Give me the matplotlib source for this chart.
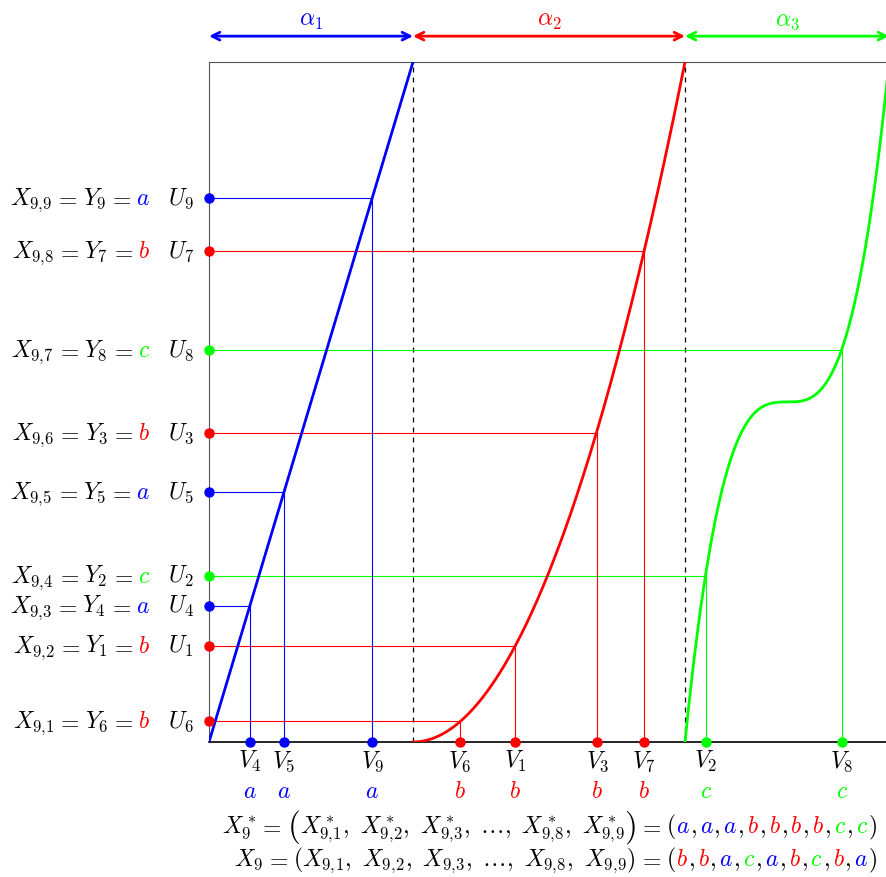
import numpy as np
import matplotlib
matplotlib.use("Agg")
import matplotlib.pyplot as plt

plt.rcParams['mathtext.fontset'] = 'cm'
plt.rcParams['font.family'] = ['DejaVu Serif']

# ---- data ----
alphas = [0.3, 0.4, 0.3]                      # widths of the three segments
U = [0.141, 0.244, 0.454, 0.200, 0.368, 0.031, 0.722, 0.576, 0.800]   # U_1..U_9
V = [0.450, 0.731, 0.571, 0.060, 0.110, 0.369, 0.640, 0.931, 0.240]   # V_1..V_9
Ycat = ['b', 'c', 'b', 'a', 'a', 'b', 'b', 'c', 'a']                   # Y_1..Y_9
cat_colors = {'a': '#0000ff', 'b': '#ff0000', 'c': '#00ff00'}
seg_labels = [r'$\alpha_1$', r'$\alpha_2$', r'$\alpha_3$']

W, H = 887, 878
FS = 17
fig = plt.figure(figsize=(W / 100, H / 100), dpi=100)
ax = fig.add_axes([209 / W, (H - 743) / H, 680 / W, 680 / H])
ax.set_xlim(0, 1)
ax.set_ylim(0, 1)
ax.set_xticks([])
ax.set_yticks([])
ax.spines['right'].set_visible(False)
ax.spines['top'].set_color('#555555')
ax.spines['left'].set_color('#555555')
ax.spines['bottom'].set_color('black')
ax.spines['bottom'].set_linewidth(1.2)

b1 = alphas[0]
b2 = alphas[0] + alphas[1]
b3 = b2 + alphas[2]

# curves (piecewise quantile map)
x1 = np.linspace(0, b1, 50)
ax.plot(x1, x1 / b1, color=cat_colors['a'], lw=2.0, zorder=3)
x2 = np.linspace(b1, b2, 200)
ax.plot(x2, ((x2 - b1) / alphas[1]) ** 2, color=cat_colors['b'], lw=2.0, zorder=3)
x3 = np.linspace(b2, b3, 200)
mid = (b2 + b3) / 2
ax.plot(x3, 0.5 + 0.5 * ((x3 - mid) / (alphas[2] / 2)) ** 3, color=cat_colors['c'], lw=2.0, zorder=3)

# dashed separators
for bx in [b1, b2]:
    ax.plot([bx, bx], [0, 1], color='black', lw=0.9, ls=(0, (4, 4)), zorder=2)

# guide lines and dots
for k in range(9):
    c = cat_colors[Ycat[k]]
    ax.plot([0, V[k]], [U[k], U[k]], color=c, lw=0.8, zorder=2)
    ax.plot([V[k], V[k]], [0, U[k]], color=c, lw=0.8, zorder=2)
    ax.plot([0], [U[k]], 'o', color=c, ms=6.5, clip_on=False, zorder=5)
    ax.plot([V[k]], [0], 'o', color=c, ms=6.5, clip_on=False, zorder=5)

# top arrows
starts = [0, b1, b2]
for i in range(3):
    c = cat_colors['abc'[i]]
    ax.annotate('', xy=(starts[i] + alphas[i], 1.038), xytext=(starts[i], 1.038),
                xycoords='data', textcoords='data', annotation_clip=False,
                arrowprops=dict(arrowstyle='<->', color=c, lw=2, shrinkA=0, shrinkB=0,
                                mutation_scale=14))
    ax.text(starts[i] + alphas[i] / 2, 1.054, seg_labels[i], color=c, ha='center',
            va='baseline', fontsize=FS, clip_on=False)

renderer = fig.canvas.get_renderer()


def rich(x_px, y_img, pieces, ha='left'):
    texts = []
    cur = x_px
    for p in pieces:
        if isinstance(p, (int, float)):
            cur += p
            continue
        s, c = p[0], p[1]
        size = p[2] if len(p) > 2 else FS
        dy = p[3] if len(p) > 3 else 0
        t = fig.text(cur / W, (H - y_img - dy) / H, s, color=c, ha='left', va='baseline', fontsize=size)
        bb = t.get_window_extent(renderer)
        cur += bb.width
        texts.append(t)
    total = cur - x_px
    shift = 0
    if ha == 'right':
        shift = -total
    elif ha == 'center':
        shift = -total / 2
    for t in texts:
        px, py = t.get_position()
        t.set_position((px + shift / W, py))
    return texts


def data_to_img(x, y):
    px, py = ax.transData.transform((x, y))
    return px, H - py


EQ = [2, (r'$=$', 'black'), 5]

# U labels and left labels
order = np.argsort(U)
rank = {int(k): r + 1 for r, k in enumerate(order)}
for k in range(9):
    _, yi = data_to_img(0, U[k])
    base = yi + 6
    rich(181, base, [(r'$U_{%d}$' % (k + 1), 'black')], ha='center')
    c = cat_colors[Ycat[k]]
    rich(150, base, [(r'$X_{9,\!%d}$' % rank[k], 'black')] + EQ +
         [(r'$Y_{%d}$' % (k + 1), 'black')] + EQ + [(r'$%s$' % Ycat[k], c)], ha='right')

# V labels
for k in range(9):
    xi, _ = data_to_img(V[k], 0)
    c = cat_colors[Ycat[k]]
    rich(xi, 768, [(r'$V_{%d}$' % (k + 1), 'black')], ha='center')
    rich(xi, 798, [(r'$%s$' % Ycat[k], c)], ha='center')

# bottom equations
sorted_cats = sorted(Ycat)
ordered_cats = [Ycat[int(k)] for k in order]


def tuple_pieces(cats):
    p = [(r'$($', 'black')]
    for i, ct in enumerate(cats):
        p.append((r'$%s$' % ct, cat_colors[ct]))
        if i < len(cats) - 1:
            p.append((r'$,$', 'black'))
            p.append(3)
    p.append((r'$)$', 'black'))
    return p


line1 = [(r'$X_9^*$', 'black')] + EQ + [(r'$($', 'black', FS * 1.4, 3),
         (r'$X_{9,\!1}^*,\ X_{9,\!2}^*,\ X_{9,\!3}^*,\ \ldots,\ X_{9,\!8}^*,\ X_{9,\!9}^*$', 'black'),
         (r'$)$', 'black', FS * 1.4, 3)] + EQ
line1 += tuple_pieces(sorted_cats)
rich(877, 833, line1, ha='right')
line2 = [(r'$X_9$', 'black')] + EQ + \
        [(r'$(X_{9,\!1},\ X_{9,\!2},\ X_{9,\!3},\ \ldots,\ X_{9,\!8},\ X_{9,\!9})$', 'black')] + EQ
line2 += tuple_pieces(ordered_cats)
rich(877, 866, line2, ha='right')

fig.savefig('out.png', dpi=100)
